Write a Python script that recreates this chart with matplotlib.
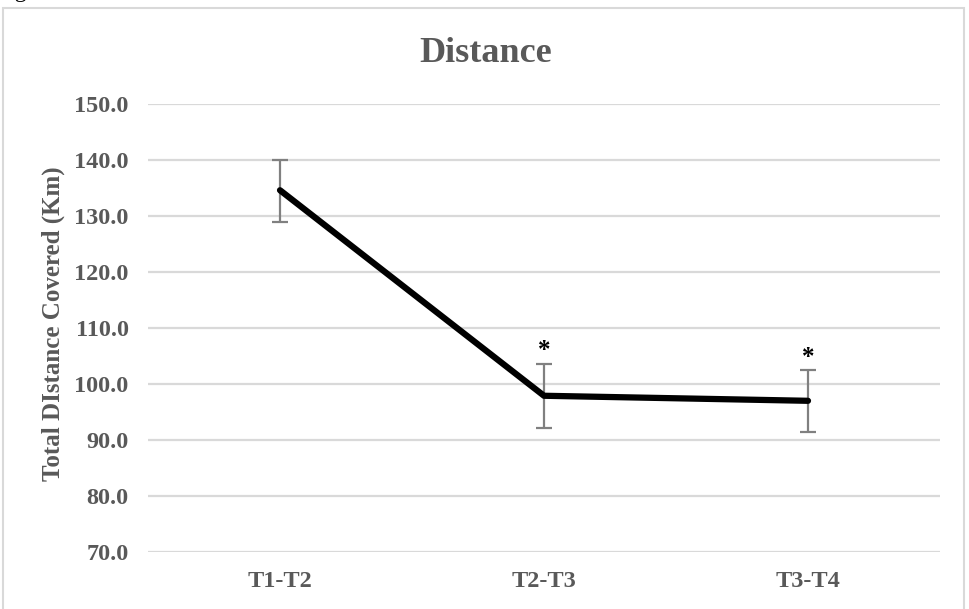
import matplotlib.pyplot as plt
from matplotlib.patches import Rectangle

# data
periods = ['T1-T2', 'T2-T3', 'T3-T4']
distance = [134.6, 97.9, 97.0]
err_low = [5.6, 5.8, 5.6]
err_high = [5.4, 5.7, 5.5]
significant = [False, True, True]
y_ticks = [70, 80, 90, 100, 110, 120, 130, 140, 150]

plt.rcParams['font.family'] = ['Liberation Serif', 'DejaVu Serif']
grey = '#595959'

fig = plt.figure(figsize=(9.69, 6.09), dpi=100)
ax = fig.add_axes([148 / 969, 1 - 552 / 609, 792 / 969, 448 / 609])

x = list(range(len(periods)))
ax.errorbar(x, distance, yerr=[err_low, err_high], fmt='none',
            ecolor='#808080', elinewidth=1.6, capsize=6, capthick=1.6, zorder=2)
ax.plot(x, distance, '-', color='black', linewidth=4.5,
        solid_capstyle='round', solid_joinstyle='round', zorder=3)

# asterisks above the error bars
for xi, yi, hi, sig in zip(x, distance, err_high, significant):
    if sig:
        ax.annotate('*', (xi, yi + hi), xytext=(0, 1), textcoords='offset points',
                    ha='center', va='bottom', fontsize=18, fontweight='bold',
                    color='black')

ax.set_xlim(-0.5, 2.5)
ax.set_ylim(70, 150)
ax.set_yticks(y_ticks)
ax.set_yticklabels([f'{v:.1f}' for v in y_ticks])
ax.set_xticks(x)
ax.set_xticklabels(periods)
ax.grid(axis='y', color='#d9d9d9', linewidth=1.6)
ax.set_axisbelow(True)
for s in ax.spines.values():
    s.set_visible(False)
ax.tick_params(length=0, labelsize=17.5, labelcolor=grey)
ax.tick_params(axis='y', pad=14)
ax.tick_params(axis='x', pad=14)
for lbl in ax.get_xticklabels() + ax.get_yticklabels():
    lbl.set_fontweight('bold')

fig.text(53 / 969, 1 - 324 / 609, 'Total DIstance Covered (Km)', rotation=90,
         ha='center', va='center', fontsize=18, fontweight='bold', color=grey)
fig.text(486 / 969, 1 - 53 / 609, 'Distance', ha='center', va='center',
         fontsize=26, fontweight='bold', color=grey)

# chart frame and the caption cut off at the top edge
fig.patches.append(Rectangle((3 / 969, -0.05), 961 / 969, 1.05 - 8 / 609,
                             transform=fig.transFigure, fill=False,
                             edgecolor='#d9d9d9', linewidth=1.5))
fig.text(-0.005, 1 + 3 / 609, 'Figure 3.', ha='left', va='baseline',
         fontsize=17, color='black')

fig.savefig('out.png', dpi=100)
